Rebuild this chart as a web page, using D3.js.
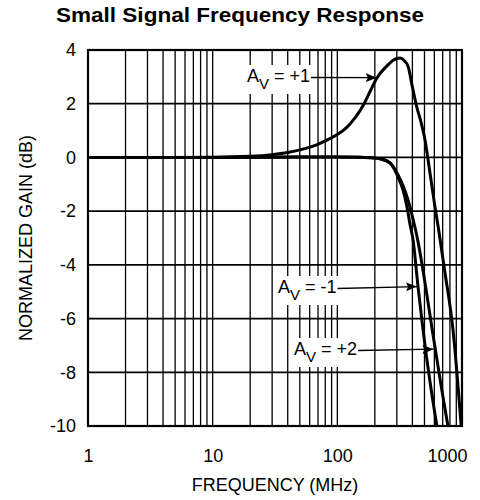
<!DOCTYPE html>
<html>
<head>
<meta charset="utf-8">
<script src="https://cdn.jsdelivr.net/npm/d3@7"></script>
<style>
  html, body { margin: 0; padding: 0; background: #fff; }
  svg { display: block; font-family: "Liberation Sans", Arial, Helvetica, sans-serif; }
</style>
</head>
<body>
<svg id="chart" width="480" height="500"></svg>
<script>
// Small signal response, frequency in MHz, normalized gain in dB
const freqAvPlus1 = [1, 3, 10, 20, 30, 40, 50, 64, 87, 100, 119, 140, 162, 185, 207, 249, 280, 318, 345, 370, 395, 433, 470, 505, 554, 607, 650, 731, 847, 985];
const gainAvPlus1 = [0, 0, 0.01, 0.04, 0.1, 0.18, 0.28, 0.42, 0.7, 0.85, 1.12, 1.5, 1.95, 2.5, 2.95, 3.4, 3.62, 3.7, 3.6, 3.38, 2.75, 1.89, 1.3, 0.65, -0.59, -1.84, -2.7, -4.3, -6.42, -10];

const freqAvMinus1 = [1, 10, 50, 100, 150, 200, 220, 265, 307, 336, 362, 383, 405, 444, 487, 560, 629];
const gainAvMinus1 = [0, 0, 0.02, 0.02, 0.01, -0.02, -0.05, -0.21, -0.73, -1.21, -1.84, -2.5, -3.07, -4.82, -6.42, -8.5, -10];

const freqAvPlus2 = [1, 10, 50, 100, 150, 200, 220, 265, 307, 340, 370, 400, 441, 511, 577, 680, 771];
const gainAvPlus2 = [0, 0, 0.02, 0.02, 0.01, -0.02, -0.05, -0.2, -0.65, -1.1, -1.6, -2.2, -3.07, -4.82, -6.42, -8.5, -10];

const xTickValues = [1, 10, 100, 1000];
const xTickLabels = ["1", "10", "100", "1000"];
const yTickValues = [4, 2, 0, -2, -4, -6, -8, -10];
const yTickLabels = ["4", "2", "0", "-2", "-4", "-6", "-8", "-10"];

// callouts: gain setting and the point each arrow reaches (MHz, dB)
const calloutGain = ["+1", "-1", "+2"];
const calloutTipFreq = [207, 436, 590];
const calloutTipGain = [2.97, -4.81, -7.14];

const titleText = "Small Signal Frequency Response";
const xTitle = "FREQUENCY (MHz)";
const yTitle = "NORMALIZED GAIN (dB)";

// ---- layout ----
const plot = { left: 88, right: 462, top: 50, bottom: 426 };
const calloutAnchor = [[247, 82], [278, 293], [294, 355]]; // text start, baseline

const svg = d3.select("#chart");

const x = d3.scaleLog().domain([1, 1000]).range([plot.left, plot.right]);
const y = d3.scaleLinear().domain([-10, 4]).range([plot.bottom, plot.top]);

// title
svg.append("text")
  .attr("x", 240).attr("y", 22)
  .attr("text-anchor", "middle")
  .attr("font-size", 20).attr("font-weight", "bold")
  .attr("textLength", 368).attr("lengthAdjust", "spacingAndGlyphs")
  .text(titleText);

// grid
const grid = svg.append("g").attr("stroke", "#000").attr("fill", "none");
grid.selectAll("line.v")
  .data(x.ticks().filter(d => d > 1 && d < 1000))
  .join("line")
  .attr("class", "v")
  .attr("x1", d => x(d)).attr("x2", d => x(d))
  .attr("y1", plot.top).attr("y2", plot.bottom)
  .attr("stroke-width", 1.3);
grid.selectAll("line.h")
  .data(yTickValues.filter(d => d > -10 && d < 4))
  .join("line")
  .attr("class", "h")
  .attr("x1", plot.left).attr("x2", plot.right)
  .attr("y1", d => y(d)).attr("y2", d => y(d))
  .attr("stroke-width", 1.8);

// axes (labels only)
const xAxis = svg.append("g")
  .attr("transform", `translate(0,${plot.bottom})`)
  .call(d3.axisBottom(x).tickValues(xTickValues)
    .tickFormat((d, i) => xTickLabels[i]).tickSize(0).tickPadding(23));
const yAxis = svg.append("g")
  .attr("transform", `translate(${plot.left},0)`)
  .call(d3.axisLeft(y).tickValues(yTickValues)
    .tickFormat((d, i) => yTickLabels[i]).tickSize(0).tickPadding(12));
[xAxis, yAxis].forEach(a => {
  a.select(".domain").remove();
  a.selectAll("text").attr("font-size", 18).attr("fill", "#000")
    .attr("font-family", "'Liberation Sans', Arial, sans-serif");
});
// keep the last frequency label inside the frame
xAxis.selectAll(".tick").filter(d => d === 1000).select("text")
  .attr("text-anchor", "end").attr("x", 5);

svg.append("text")
  .attr("x", (plot.left + plot.right) / 2).attr("y", 491)
  .attr("text-anchor", "middle").attr("font-size", 18)
  .text(xTitle);
svg.append("text")
  .attr("transform", `translate(32,${(plot.top + plot.bottom) / 2}) rotate(-90)`)
  .attr("text-anchor", "middle").attr("font-size", 18)
  .text(yTitle);

// curves
svg.append("defs").append("clipPath").attr("id", "plotClip")
  .append("rect")
  .attr("x", plot.left).attr("y", plot.top)
  .attr("width", plot.right - plot.left).attr("height", plot.bottom - plot.top);

const line = d3.line().x(d => x(d[0])).y(d => y(d[1])).curve(d3.curveMonotoneX);
const series = [
  d3.zip(freqAvPlus1, gainAvPlus1),
  d3.zip(freqAvMinus1, gainAvMinus1),
  d3.zip(freqAvPlus2, gainAvPlus2)
];
svg.append("g").attr("clip-path", "url(#plotClip)")
  .selectAll("path")
  .data(series)
  .join("path")
  .attr("d", line)
  .attr("fill", "none")
  .attr("stroke", "#000")
  .attr("stroke-width", 3)
  .attr("stroke-linejoin", "round");

// arrowhead
svg.select("defs").append("marker")
  .attr("id", "arrowHead")
  .attr("markerUnits", "userSpaceOnUse")
  .attr("markerWidth", 12).attr("markerHeight", 10)
  .attr("refX", 11).attr("refY", 4.5)
  .attr("orient", "auto")
  .append("path")
  .attr("d", "M0,0 L11,4.5 L0,9 L2,4.5 Z")
  .attr("fill", "#000");

// callouts
calloutGain.forEach((g, i) => {
  const [tx, ty] = calloutAnchor[i];
  const grp = svg.append("g");
  const bg = grp.append("rect").attr("fill", "#fff");
  const t = grp.append("text")
    .attr("x", tx).attr("y", ty)
    .attr("font-size", 18);
  t.append("tspan").text("A");
  t.append("tspan").attr("font-size", 15).attr("dy", 7).text("V");
  t.append("tspan").attr("dy", -7).text(` = ${g}`);
  const bb = t.node().getBBox();
  bg.attr("x", bb.x - 2).attr("y", bb.y - 1)
    .attr("width", bb.width + 4).attr("height", bb.height + 3);
  const ay = ty - 4.5;
  grp.append("line")
    .attr("x1", bb.x + bb.width + 1).attr("y1", ay)
    .attr("x2", x(calloutTipFreq[i])).attr("y2", y(calloutTipGain[i]))
    .attr("stroke", "#000").attr("stroke-width", 1.3)
    .attr("marker-end", "url(#arrowHead)");
});

// frame
svg.append("rect")
  .attr("x", plot.left).attr("y", plot.top)
  .attr("width", plot.right - plot.left).attr("height", plot.bottom - plot.top)
  .attr("fill", "none").attr("stroke", "#000").attr("stroke-width", 2.2);
</script>
</body>
</html>
